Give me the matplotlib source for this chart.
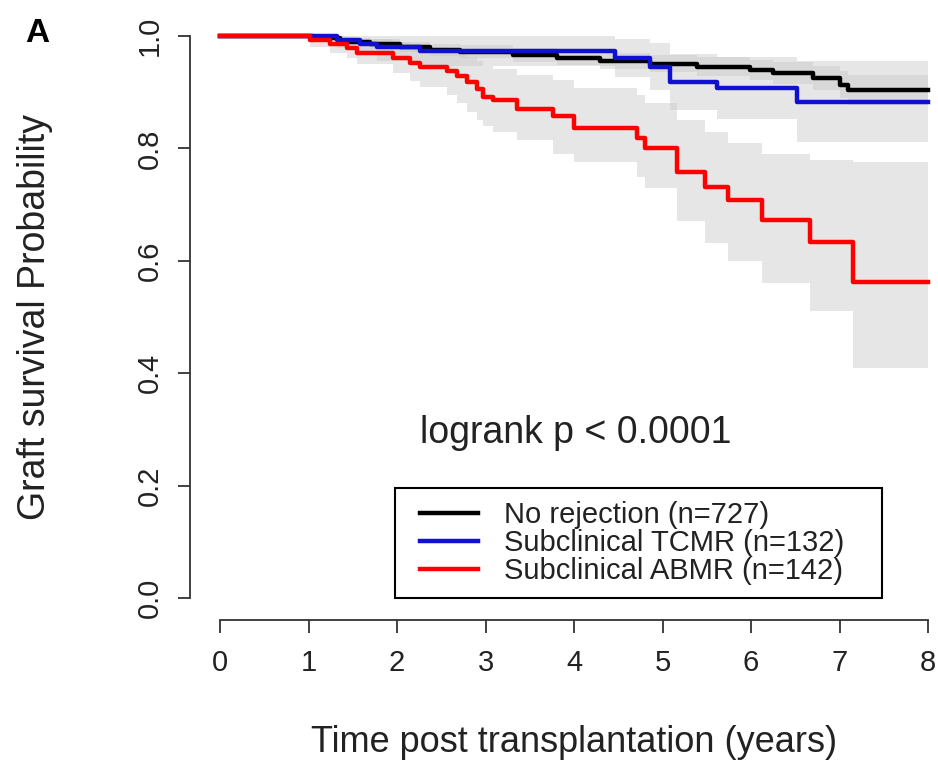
import matplotlib.pyplot as plt
from matplotlib.lines import Line2D
from matplotlib.legend_handler import HandlerLine2D

# Kaplan-Meier steps (time in years, survival probability)
# No rejection (n=727)
none_t = [0, 1.05, 1.36, 1.69, 2.03, 2.37, 2.71, 3.31, 3.81, 4.29, 4.86, 5.39, 5.99, 6.25, 6.70, 7.00, 7.10, 8]
none_s = [1.0, 0.997, 0.99, 0.985, 0.98, 0.975, 0.972, 0.966, 0.961, 0.955, 0.951, 0.945, 0.94, 0.934, 0.925, 0.913, 0.904, 0.904]
none_lo = [1.0, 0.993, 0.984, 0.977, 0.971, 0.965, 0.961, 0.954, 0.948, 0.941, 0.936, 0.929, 0.922, 0.915, 0.904, 0.889, 0.878, 0.878]
none_hi = [1.0, 1.0, 0.997, 0.994, 0.99, 0.986, 0.984, 0.979, 0.975, 0.97, 0.967, 0.962, 0.958, 0.953, 0.946, 0.937, 0.931, 0.931]

# Subclinical TCMR (n=132)
tcmr_t = [0, 1.32, 1.58, 1.77, 2.26, 4.46, 4.86, 5.08, 5.62, 6.52, 8]
tcmr_s = [1.0, 0.993, 0.986, 0.98, 0.974, 0.961, 0.945, 0.918, 0.907, 0.883, 0.883]
tcmr_lo = [1.0, 0.979, 0.966, 0.956, 0.946, 0.927, 0.904, 0.869, 0.853, 0.812, 0.812]
tcmr_hi = [1.0, 1.0, 1.0, 1.0, 1.0, 0.995, 0.987, 0.968, 0.962, 0.955, 0.955]

# Subclinical ABMR (n=142)
abmr_t = [0, 1.02, 1.24, 1.43, 1.55, 1.95, 2.15, 2.26, 2.57, 2.68, 2.79, 2.90, 2.97, 3.08, 3.36,
          3.76, 4.00, 4.71, 4.80, 5.16, 5.48, 5.74, 6.12, 6.67, 7.15, 8]
abmr_s = [1.0, 0.993, 0.986, 0.978, 0.97, 0.961, 0.952, 0.945, 0.938, 0.929, 0.918, 0.905, 0.892, 0.886, 0.870,
          0.857, 0.837, 0.819, 0.800, 0.758, 0.731, 0.708, 0.673, 0.633, 0.562, 0.562]
abmr_lo = [1.0, 0.98, 0.97, 0.96, 0.95, 0.935, 0.92, 0.91, 0.895, 0.88, 0.865, 0.85, 0.84, 0.83, 0.815,
           0.79, 0.775, 0.75, 0.73, 0.67, 0.632, 0.60, 0.56, 0.51, 0.41, 0.41]
abmr_hi = [1.0, 1.0, 1.0, 0.998, 0.995, 0.99, 0.985, 0.98, 0.975, 0.97, 0.962, 0.955, 0.947, 0.942, 0.93,
           0.922, 0.908, 0.895, 0.88, 0.85, 0.83, 0.81, 0.79, 0.78, 0.775, 0.775]

labels = ['No rejection (n=727)', 'Subclinical TCMR (n=132)', 'Subclinical ABMR (n=142)']
colors = ['black', '#1010d0', '#ff0000']
x_ticks = [0, 1, 2, 3, 4, 5, 6, 7, 8]
y_ticks = [0.0, 0.2, 0.4, 0.6, 0.8, 1.0]

plt.rcParams['font.family'] = ['Liberation Sans', 'DejaVu Sans']

fig = plt.figure(figsize=(9.38, 7.61), dpi=100)
ax = fig.add_axes([220 / 938, 1 - 598 / 761, 708 / 938, 562 / 761])

groups = [(none_t, none_s, none_lo, none_hi),
          (tcmr_t, tcmr_s, tcmr_lo, tcmr_hi),
          (abmr_t, abmr_s, abmr_lo, abmr_hi)]

# confidence bands first, all in light grey
for t, s, lo, hi in groups:
    ax.fill_between(t, lo, hi, step='post', color='#c8c8c8', alpha=0.45, linewidth=0, zorder=1)

for (t, s, lo, hi), c, lab in zip(groups, colors, labels):
    ax.step(t, s, where='post', color=c, lw=3.2, label=lab, clip_on=False, zorder=3)

ax.set_xlim(0, 8)
ax.set_ylim(0, 1)

# R base-graphics style axes
for side in ['top', 'right']:
    ax.spines[side].set_visible(False)
ax.spines['left'].set_position(('outward', 21.6))
ax.spines['bottom'].set_position(('outward', 15.8))
ax.spines['left'].set_bounds(0, 1)
ax.spines['bottom'].set_bounds(0, 8)
for side in ['left', 'bottom']:
    ax.spines[side].set_linewidth(1.3)
    ax.spines[side].set_color('#333333')

ax.set_xticks(x_ticks)
ax.set_yticks(y_ticks)
ax.set_yticklabels([f'{v:.1f}' for v in y_ticks], rotation=90, va='center')
ax.tick_params(axis='both', length=9, width=1.3, color='#333333', labelsize=21, labelcolor='#222222')
ax.tick_params(axis='x', pad=12)
ax.tick_params(axis='y', pad=10)

ax.set_xlabel('Time post transplantation (years)', fontsize=26, color='#222222', va='center')
ax.xaxis.set_label_coords(0.5, (598 - 742) / 562)
ax.set_ylabel('Graft survival Probability', fontsize=27, color='#222222', va='center')
ax.yaxis.set_label_coords((35 - 220) / 708, 0.5)

ax.text(4.02, 0.294, 'logrank p < 0.0001', fontsize=27, color='#222222', ha='center', va='center')

leg = ax.legend(loc='lower left', bbox_to_anchor=(0.247, 0.0, 0.688, 0.2), mode='expand',
                borderaxespad=0, fancybox=False, edgecolor='black', framealpha=1, fontsize=21,
                handlelength=2.4, handletextpad=0.9, borderpad=0.45, labelspacing=0.0,
                handler_map={Line2D: HandlerLine2D(xpad=0.42)})
leg.get_frame().set_linewidth(1.5)
for text in leg.get_texts():
    text.set_color('#222222')

fig.text(25 / 938, 1 - 33 / 761, 'A', fontsize=24, fontweight='bold', ha='left', va='center')

fig.savefig('out.png', dpi=100)
